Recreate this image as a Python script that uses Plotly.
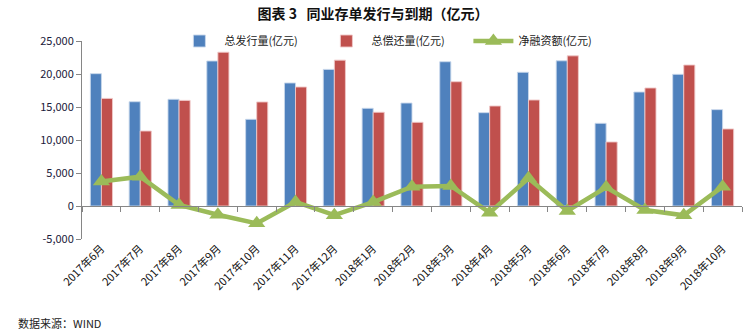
import plotly.graph_objects as go

months = ["2017年6月", "2017年7月", "2017年8月", "2017年9月", "2017年10月", "2017年11月",
          "2017年12月", "2018年1月", "2018年2月", "2018年3月", "2018年4月", "2018年5月",
          "2018年6月", "2018年7月", "2018年8月", "2018年9月", "2018年10月"]
issuance = [20050, 15800, 16170, 21970, 13130, 18640, 20700, 14800, 15600, 21860,
            14140, 20260, 22000, 12530, 17270, 19950, 14600]
maturity = [16300, 11360, 16000, 23300, 15760, 18030, 22100, 14200, 12680, 18830,
            15150, 16060, 22750, 9700, 17880, 21360, 11670]
net_financing = [3700, 4440, 170, -1330, -2630, 610, -1400, 600, 2920, 3030,
                 -1010, 4200, -750, 2830, -610, -1410, 2930]

y_ticks = [-5000, 0, 5000, 10000, 15000, 20000, 25000]
y_tick_text = ["-5,000", "0", "5,000", "10,000", "15,000", "20,000", "25,000"]
y_min, y_max = -5000, 25000

BLUE = "#4F81BD"
RED = "#C0504D"
GREEN = "#9BBB59"
AXIS = "#868686"
FONT = "Noto Sans CJK SC"

fig = go.Figure()
fig.add_trace(go.Bar(x=months, y=issuance, name="总发行量(亿元)",
                     marker=dict(color=BLUE, line=dict(color="rgba(200,215,235,0.9)", width=1))))
fig.add_trace(go.Bar(x=months, y=maturity, name="总偿还量(亿元)",
                     marker=dict(color=RED, line=dict(color="rgba(240,200,200,0.9)", width=1))))
fig.add_trace(go.Scatter(x=months, y=net_financing, name="净融资额(亿元)", mode="lines+markers",
                         line=dict(color=GREEN, width=4.5),
                         marker=dict(symbol="triangle-up", size=15, color=GREEN)))
# helper trace so the zero-level axis with boundary ticks gets drawn
fig.add_trace(go.Scatter(x=months, y=[None] * len(months), xaxis="x2",
                         showlegend=False, hoverinfo="skip"))

zero_pos = (0 - y_min) / (y_max - y_min)

fig.update_layout(
    width=746, height=336,
    margin=dict(l=82, r=4, t=41, b=97),
    paper_bgcolor="white", plot_bgcolor="white",
    font=dict(family=FONT, size=11, color="#222"),
    title=dict(text="<b>图表 3   同业存单发行与到期（亿元）</b>", x=0.5, xanchor="center",
               y=0.958, yanchor="middle", font=dict(size=14, color="#111")),
    barmode="group", bargap=0.43, bargroupgap=0,
    legend=dict(orientation="h", x=0.14, xanchor="left", y=1.0, yanchor="middle",
                font=dict(size=11, color="#222"), bgcolor="rgba(0,0,0,0)",
                itemwidth=40, entrywidth=92, entrywidthmode="pixels", tracegroupgap=0),
    xaxis=dict(type="category", categoryorder="array", categoryarray=months,
               showline=False, ticks="", tickangle=-45, showgrid=False,
               tickfont=dict(size=11, color="#111"), range=[-0.5, len(months) - 0.5]),
    xaxis2=dict(type="category", overlaying="x", matches="x", anchor="free",
                position=zero_pos, showline=True, linecolor=AXIS, linewidth=1,
                ticks="outside", ticklen=5, tickcolor=AXIS, tickson="boundaries",
                showticklabels=False, showgrid=False),
    yaxis=dict(range=[y_min, y_max], tickvals=y_ticks, ticktext=y_tick_text,
               showline=True, linecolor=AXIS, ticks="outside", ticklen=5, tickcolor=AXIS,
               showgrid=False, zeroline=False, tickfont=dict(size=11, color="#1a1a3a")),
    annotations=[dict(text="数据来源：WIND", xref="paper", yref="paper", x=-0.1, y=-0.425,
                      xanchor="left", yanchor="middle", showarrow=False,
                      font=dict(size=11, color="#222"))],
)

fig.write_html("out.html")
